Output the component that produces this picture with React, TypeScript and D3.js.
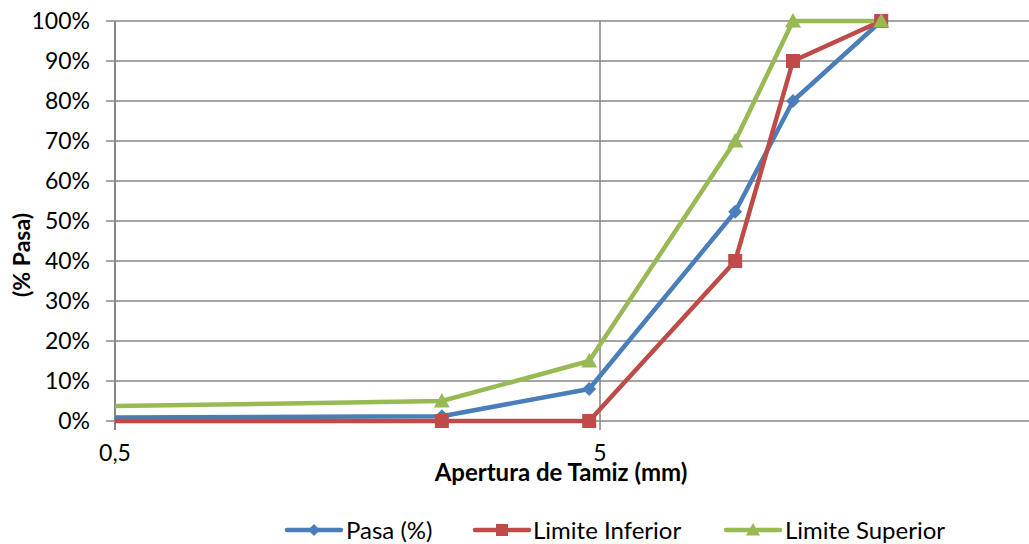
import React from "react";
import * as d3 from "d3";

const sieveSizes = [0.3, 2.36, 4.75, 9.5, 12.5, 19];
const pasa = [0.8, 1.2, 8, 52.3, 80, 100];
const limiteInferior = [0, 0, 0, 40, 90, 100];
const limiteSuperior = [3.3, 5, 15, 70, 100, 100];
const yTicks = [0, 10, 20, 30, 40, 50, 60, 70, 80, 90, 100];
const xTicks = [0.5, 5, 50];
const xTickLabels = ["0,5", "5", "50"];

const W = 1029;
const H = 544;
const FONT = "Lato, 'Open Sans', sans-serif";
const GRID = "#868686";

const series = [
  { name: "Pasa (%)", values: pasa, color: "#4A7EBB", marker: "diamond" },
  { name: "Limite Inferior", values: limiteInferior, color: "#BE4B48", marker: "square" },
  { name: "Limite Superior", values: limiteSuperior, color: "#98B954", marker: "triangle" },
];

function Marker({ type, x, y, color, s = 7 }: { type: string; x: number; y: number; color: string; s?: number }) {
  if (type === "diamond") {
    return <path d={`M${x},${y - s}L${x + s},${y}L${x},${y + s}L${x - s},${y}Z`} fill={color} />;
  }
  if (type === "square") {
    return <rect x={x - s} y={y - s} width={2 * s} height={2 * s} fill={color} />;
  }
  const t = s + 1;
  return <path d={`M${x},${y - t}L${x + t},${y + t * 0.8}L${x - t},${y + t * 0.8}Z`} fill={color} />;
}

export default function App() {
  const x = d3.scaleLog().domain([0.5, 50]).range([115, 1085]);
  const y = d3.scaleLinear().domain([0, 100]).range([421, 21]);
  const line = d3
    .line<[number, number]>()
    .x((d) => x(d[0]))
    .y((d) => y(d[1]));

  const legendItems = [
    { lx: 287, tx: 346 },
    { lx: 475, tx: 533 },
    { lx: 726, tx: 785 },
  ];
  const legendLen = 54;
  const ly = 530;

  return (
    <svg width={W} height={H} style={{ display: "block", position: "absolute", left: 0, top: 0 }} fontFamily={FONT}>
      <rect width={W} height={H} fill="#fff" />
      <defs>
        <clipPath id="plot">
          <rect x={115} y={0} width={W - 115} height={430} />
        </clipPath>
      </defs>
      {yTicks.map((t) => (
        <g key={t}>
          <line x1={106} x2={W} y1={y(t)} y2={y(t)} stroke={GRID} strokeWidth={1.5} />
          <text x={90} y={y(t)} dy="0.36em" textAnchor="end" fontSize={23} fill="#000">
            {t}%
          </text>
        </g>
      ))}
      {xTicks.map((t, i) =>
        x(t) <= W ? (
          <g key={t}>
            <line x1={x(t)} x2={x(t)} y1={y(100)} y2={430} stroke={GRID} strokeWidth={1.5} />
            <text x={x(t)} y={461} textAnchor="middle" fontSize={23} fill="#000">
              {xTickLabels[i]}
            </text>
          </g>
        ) : null
      )}
      <line x1={115} x2={115} y1={y(100)} y2={430} stroke={GRID} strokeWidth={2} />
      <g clipPath="url(#plot)">
        {series.map((s) => (
          <path
            key={s.name}
            d={line(sieveSizes.map((v, i) => [v, s.values[i]] as [number, number])) || ""}
            fill="none"
            stroke={s.color}
            strokeWidth={4.5}
            strokeLinejoin="round"
          />
        ))}
        {series.map((s) =>
          sieveSizes.map((v, i) => (
            <Marker key={s.name + i} type={s.marker} x={x(v)} y={y(s.values[i])} color={s.color} />
          ))
        )}
      </g>
      <text x={561} y={481} textAnchor="middle" fontSize={24} fontWeight="bold" fill="#000">
        Apertura de Tamiz (mm)
      </text>
      <text
        transform={`translate(30,255) rotate(-90)`}
        textAnchor="middle"
        fontSize={23}
        fontWeight="bold"
        fill="#000"
      >
        (% Pasa)
      </text>
      {series.map((s, i) => {
        const it = legendItems[i];
        return (
          <g key={s.name}>
            <line x1={it.lx} x2={it.lx + legendLen} y1={ly} y2={ly} stroke={s.color} strokeWidth={4.5} strokeLinecap="round" />
            <Marker type={s.marker} x={it.lx + legendLen / 2} y={ly} color={s.color} s={6} />
            <text x={it.tx} y={ly} dy="0.36em" fontSize={24} fill="#000">
              {s.name}
            </text>
          </g>
        );
      })}
    </svg>
  );
}
